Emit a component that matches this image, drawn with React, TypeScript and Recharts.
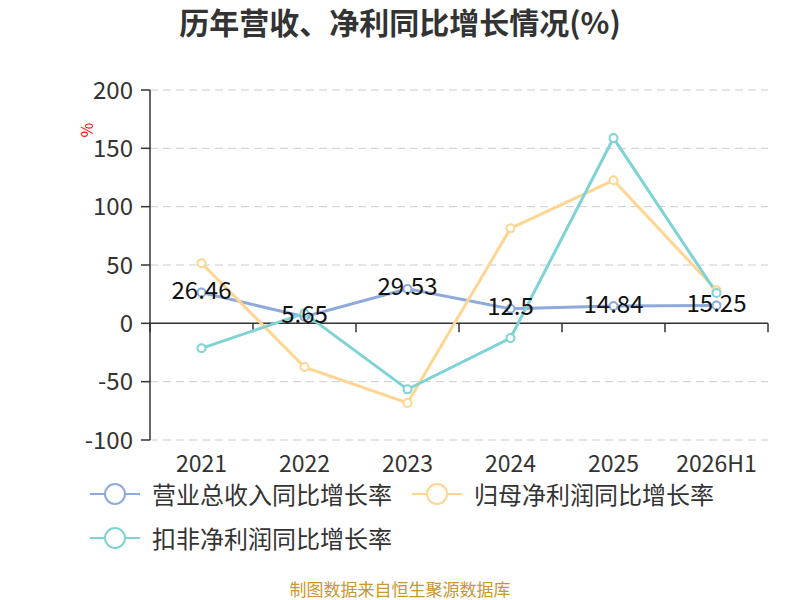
import React from 'react';
import {
  LineChart,
  Line,
  XAxis,
  YAxis,
  CartesianGrid,
  ReferenceLine,
  LabelList,
} from 'recharts';

const YEARS = ['2021', '2022', '2023', '2024', '2025', '2026H1'];
const REVENUE_YOY = [26.46, 5.65, 29.53, 12.5, 14.84, 15.25];
const NET_PROFIT_YOY = [51.6, -37.5, -68.3, 81.4, 122.6, 28.3];
const DEDUCTED_PROFIT_YOY = [-21.4, 8.6, -56.6, -12.6, 158.8, 26];
const Y_TICKS = [-100, -50, 0, 50, 100, 150, 200];

const SERIES = [
  { key: 'revenue', name: '营业总收入同比增长率', color: '#8eaadc' },
  { key: 'netProfit', name: '归母净利润同比增长率', color: '#ffd591' },
  { key: 'deducted', name: '扣非净利润同比增长率', color: '#7fd3d5' },
];

const data = YEARS.map((year, i) => ({
  year,
  revenue: REVENUE_YOY[i],
  netProfit: NET_PROFIT_YOY[i],
  deducted: DEDUCTED_PROFIT_YOY[i],
}));

const FONT = '"Noto Sans CJK SC", "Noto Sans", sans-serif';
const PLOT_W = 800 - 150 - 32;
const HALF_STEP = PLOT_W / YEARS.length / 2;

// zero axis with category-boundary ticks
function ZeroAxis(props: any) {
  const { x1, y1, x2 } = props;
  const n = YEARS.length;
  const step = (x2 - x1) / n;
  const ticks = [];
  for (let i = 0; i <= n; i++) {
    const x = x1 + step * i;
    ticks.push(<line key={i} x1={x} y1={y1} x2={x} y2={y1 + 9} stroke="#333" strokeWidth={1.5} />);
  }
  return (
    <g>
      <line x1={x1} y1={y1} x2={x2} y2={y1} stroke="#333" strokeWidth={1.5} />
      {ticks}
    </g>
  );
}

function UnitLabel(props: any) {
  const { viewBox } = props;
  const x = viewBox.x - 4;
  const y = viewBox.y + 40;
  return (
    <text x={x} y={y} transform={`rotate(-90 ${x} ${y})`} fill="red" fontSize={16} textAnchor="middle" dominantBaseline="central">
      %
    </text>
  );
}

function LegendIcon({ color }: { color: string }) {
  return (
    <svg width={50} height={24} style={{ display: 'block' }}>
      <line x1={0} y1={12} x2={50} y2={12} stroke={color} strokeWidth={2} />
      <circle cx={25} cy={12} r={10} fill="#fff" stroke={color} strokeWidth={2} />
    </svg>
  );
}

export default function App() {
  return (
    <div
      style={{
        position: 'absolute',
        left: 0,
        top: 0,
        width: 800,
        height: 600,
        background: '#fff',
        fontFamily: FONT,
      }}
    >
      <div
        style={{
          position: 'absolute',
          top: 2,
          width: 800,
          textAlign: 'center',
          fontSize: 30,
          fontWeight: 700,
          color: '#333',
          lineHeight: '38px',
        }}
      >
        历年营收、净利同比增长情况(%)
      </div>

      <LineChart
        width={800}
        height={600}
        data={data}
        margin={{ top: 90, right: 32, left: 90, bottom: 130 }}
        style={{ position: 'absolute', left: 0, top: 0 }}
      >
        <CartesianGrid vertical={false} stroke="#ccc" strokeDasharray="8 5" />
        <XAxis
          dataKey="year"
          padding={{ left: HALF_STEP, right: HALF_STEP }}
          axisLine={false}
          tickLine={false}
          tickMargin={10}
          interval={0}
          tick={{ fontSize: 23, fill: '#333', fontFamily: FONT }}
        />
        <YAxis
          domain={[-100, 200]}
          ticks={Y_TICKS}
          interval={0}
          width={60}
          axisLine={{ stroke: '#333', strokeWidth: 1.5 }}
          tickLine={{ stroke: '#333', strokeWidth: 1.5 }}
          tickSize={9}
          tickMargin={8}
          tick={{ fontSize: 24, fill: '#333', fontFamily: FONT }}
          label={<UnitLabel />}
        />
        <ReferenceLine y={0} shape={<ZeroAxis />} />
        {SERIES.map((s) => (
          <Line
            key={s.key}
            type="linear"
            dataKey={s.key}
            name={s.name}
            stroke={s.color}
            strokeWidth={3}
            dot={{ r: 4, fill: '#fff', stroke: s.color, strokeWidth: 2 }}
            isAnimationActive={false}
          />
        ))}
        <Line
          dataKey="revenue"
          stroke="none"
          dot={false}
          activeDot={false}
          legendType="none"
          isAnimationActive={false}
        >
          <LabelList
            dataKey="revenue"
            position="center"
            dy={-2}
            fill="#111"
            fontSize={24}
            fontFamily={FONT}
          />
        </Line>
      </LineChart>

      <div
        style={{
          position: 'absolute',
          left: 90,
          top: 480,
          width: 640,
          display: 'flex',
          flexWrap: 'wrap',
          columnGap: 20,
          rowGap: 16,
        }}
      >
        {SERIES.map((s) => (
          <div key={s.key} style={{ display: 'flex', alignItems: 'center', gap: 12, height: 28 }}>
            <LegendIcon color={s.color} />
            <span style={{ fontSize: 24, color: '#333', lineHeight: '24px' }}>{s.name}</span>
          </div>
        ))}
      </div>

      <div
        style={{
          position: 'absolute',
          top: 580,
          width: 800,
          textAlign: 'center',
          fontSize: 17,
          color: '#c9962f',
          lineHeight: '18px',
        }}
      >
        制图数据来自恒生聚源数据库
      </div>
    </div>
  );
}
